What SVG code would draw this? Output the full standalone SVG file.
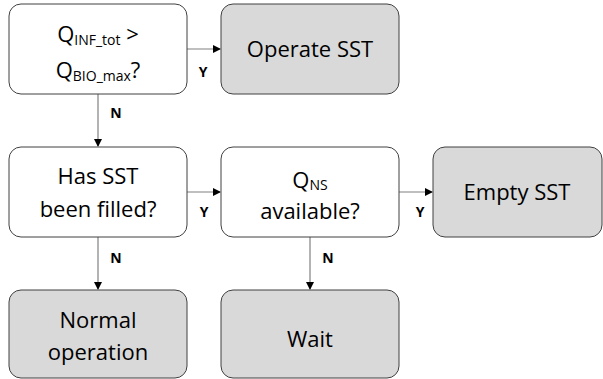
<svg xmlns="http://www.w3.org/2000/svg" width="603" height="379" viewBox="0 0 603 379">
<defs>
<marker id="ah" markerWidth="8" markerHeight="8" refX="7" refY="4" orient="auto" markerUnits="userSpaceOnUse">
<path d="M0,0 L8,4 L0,8 z" fill="#000"/>
</marker>
<style>
.box{fill:#fff;stroke:#404040;stroke-width:1}
.term{fill:#d9d9d9;stroke:#404040;stroke-width:1}
.t{font-family:"Open Sans","Noto Sans",sans-serif;font-size:22px;fill:#000;text-anchor:middle}
.sub{font-size:14px}
.lbl{font-family:"Open Sans","Noto Sans",sans-serif;font-size:14px;font-weight:bold;fill:#000;text-anchor:middle}
.c{stroke:#808080;stroke-width:1.2;fill:none;marker-end:url(#ah)}
</style>
</defs>
<g id="connectors">
<path class="c" d="M187,49 H220"/>
<path class="c" d="M98,94 V146"/>
<path class="c" d="M187,192 H220"/>
<path class="c" d="M399,192 H432"/>
<path class="c" d="M98,237 V289"/>
<path class="c" d="M310,237 V289"/>
<text class="lbl" x="203" y="77">Y</text>
<text class="lbl" x="116" y="118">N</text>
<text class="lbl" x="204" y="217">Y</text>
<text class="lbl" x="420" y="217">Y</text>
<text class="lbl" x="116" y="263">N</text>
<text class="lbl" x="328" y="263">N</text>
</g>
<g id="q1">
<rect class="box" x="9" y="4" width="178" height="90" rx="12"/>
<text class="t" x="98" y="42">Q<tspan class="sub" dy="3">INF_tot</tspan><tspan dy="-3"> &gt;</tspan></text>
<text class="t" x="98" y="78">Q<tspan class="sub" dy="3">BIO_max</tspan><tspan dy="-3">?</tspan></text>
</g>
<g id="operate">
<rect class="term" x="221" y="4" width="178" height="90" rx="12"/>
<text class="t" x="310" y="57">Operate SST</text>
</g>
<g id="q2">
<rect class="box" x="9" y="147" width="178" height="90" rx="12"/>
<text class="t" x="98" y="184">Has SST</text>
<text class="t" x="98" y="217">been filled?</text>
</g>
<g id="q3">
<rect class="box" x="221" y="147" width="178" height="90" rx="12"/>
<text class="t" x="310" y="188">Q<tspan class="sub" dy="2">NS</tspan></text>
<text class="t" x="310" y="219">available?</text>
</g>
<g id="empty">
<rect class="term" x="433" y="147" width="169" height="90" rx="12"/>
<text class="t" x="517" y="200">Empty SST</text>
</g>
<g id="normal">
<rect class="term" x="9" y="290" width="178" height="88" rx="12"/>
<text class="t" x="98" y="328">Normal</text>
<text class="t" x="98" y="360">operation</text>
</g>
<g id="wait">
<rect class="term" x="221" y="290" width="178" height="88" rx="12"/>
<text class="t" x="310" y="347">Wait</text>
</g>
</svg>
